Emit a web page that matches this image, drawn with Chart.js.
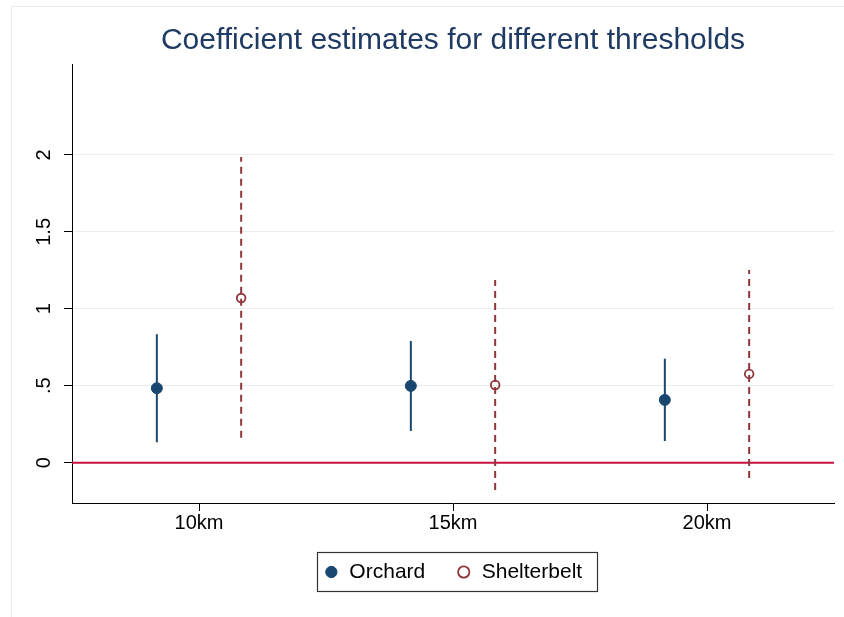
<!DOCTYPE html>
<html>
<head>
<meta charset="utf-8">
<script src="https://cdn.jsdelivr.net/npm/chart.js@4.4.1/dist/chart.umd.min.js"></script>
<style>
  html, body { margin: 0; padding: 0; background: #fff; }
  #wrap { position: relative; width: 844px; height: 617px; }
</style>
</head>
<body>
<div id="wrap"><canvas id="chart"></canvas></div>
<script>
// Data
const thresholds = [10, 15, 20];
const xTickLabels = ['10km', '15km', '20km'];
const orchardEst = [0.484, 0.499, 0.408];
const orchardLo = [0.133, 0.206, 0.141];
const orchardHi = [0.835, 0.791, 0.676];
const shelterEst = [1.07, 0.505, 0.577];
const shelterLo = [0.162, -0.177, -0.099];
const shelterHi = [1.987, 1.187, 1.252];
const yTicks = [0, 0.5, 1, 1.5, 2];
const yTickLabels = ['0', '.5', '1', '1.5', '2'];

const NAVY = '#1a476f';
const MAROON = '#90353b';
const OFFSET = 0.83;
const FONT = '"Liberation Sans", Arial, Helvetica, sans-serif';

const orchardX = thresholds.map(t => t - OFFSET);
const shelterX = thresholds.map(t => t + OFFSET);

// one small dataset per confidence interval
const ciSets = [];
thresholds.forEach((t, i) => {
  ciSets.push({
    label: 'ci-orchard',
    data: [{ x: orchardX[i], y: orchardLo[i] }, { x: orchardX[i], y: orchardHi[i] }],
    showLine: true, borderColor: NAVY, borderWidth: 2, pointRadius: 0, order: 1
  });
  ciSets.push({
    label: 'ci-shelter',
    data: [{ x: shelterX[i], y: shelterLo[i] }, { x: shelterX[i], y: shelterHi[i] }],
    showLine: true, borderColor: MAROON, borderWidth: 2, borderDash: [7, 5], pointRadius: 0, order: 1
  });
});

const X_MIN = 7.5, X_MAX = 22.5;

// faint outer frame + legend box
const framePlugin = {
  id: 'frames',
  beforeDraw(chart) {
    const ctx = chart.ctx;
    ctx.save();
    ctx.strokeStyle = '#e6eef0';
    ctx.lineWidth = 1;
    ctx.strokeRect(11.5, 6.5, 900, 700);
    ctx.restore();
  },
  afterDraw(chart) {
    const hb = chart.legend && chart.legend.legendHitBoxes;
    if (!hb || !hb.length) return;
    const first = hb[0], last = hb[hb.length - 1];
    const yc = first.top + first.height / 2;
    const ctx = chart.ctx;
    ctx.save();
    ctx.strokeStyle = '#333';
    ctx.lineWidth = 1.2;
    const left = Math.round(first.left - 6.5) + 0.5;
    const right = Math.round(last.left + last.width + 15) + 0.5;
    ctx.strokeRect(left, Math.round(yc - 20) + 0.5, right - left, 39);
    ctx.restore();
  }
};

new Chart(document.getElementById('chart'), {
  type: 'scatter',
  data: {
    datasets: [
      {
        label: 'Orchard',
        data: orchardX.map((x, i) => ({ x, y: orchardEst[i] })),
        pointRadius: 5.5, pointBackgroundColor: NAVY, pointBorderColor: NAVY,
        pointBorderWidth: 1, backgroundColor: NAVY, borderColor: NAVY, order: 0
      },
      {
        label: 'Shelterbelt',
        data: shelterX.map((x, i) => ({ x, y: shelterEst[i] })),
        pointRadius: 4.3, pointBackgroundColor: 'rgba(0,0,0,0)', pointBorderColor: MAROON,
        pointBorderWidth: 1.8, backgroundColor: 'rgba(0,0,0,0)', borderColor: MAROON, order: 0
      },
      ...ciSets,
      {
        label: 'zero',
        data: [{ x: X_MIN, y: 0 }, { x: X_MAX, y: 0 }],
        showLine: true, borderColor: '#c8103e', borderWidth: 2, pointRadius: 0, order: 2
      }
    ]
  },
  options: {
    responsive: true,
    maintainAspectRatio: false,
    animation: false,
    layout: { padding: { left: 0, right: 10, top: 0, bottom: 24.5 } },
    font: { family: FONT },
    plugins: {
      title: {
        display: true,
        text: 'Coefficient estimates for different thresholds',
        color: '#1f3a63',
        fullSize: false,
        font: { family: FONT, size: 30, weight: 'normal' },
        padding: { top: 23, bottom: 5 }
      },
      legend: {
        position: 'bottom',
        fullSize: false,
        labels: {
          usePointStyle: true,
          boxWidth: 15,
          boxHeight: 8,
          padding: 31,
          color: '#000',
          font: { family: FONT, size: 21 },
          filter: item => item.text === 'Orchard' || item.text === 'Shelterbelt'
        }
      },
      tooltip: { enabled: false }
    },
    scales: {
      x: {
        type: 'linear',
        min: X_MIN,
        max: X_MAX,
        afterBuildTicks: scale => { scale.ticks = thresholds.map(v => ({ value: v })); },
        afterFit: scale => { scale.height = 27.5; },
        grid: { drawOnChartArea: false, tickLength: 8, tickColor: '#000', tickWidth: 1 },
        border: { color: '#000', width: 1 },
        ticks: {
          color: '#000', padding: 0, maxRotation: 0,
          font: { family: FONT, size: 20 },
          callback: v => xTickLabels[thresholds.indexOf(v)]
        }
      },
      y: {
        min: -0.262,
        max: 2.591,
        afterBuildTicks: scale => { scale.ticks = yTicks.map(v => ({ value: v })); },
        afterFit: scale => { scale.width = 72; },
        grid: { color: '#e7eef1', lineWidth: 1, tickLength: 8, tickColor: '#000', tickWidth: 1 },
        border: { color: '#000', width: 1 },
        ticks: {
          color: '#000', padding: 6, minRotation: 90, maxRotation: 90, crossAlign: 'center',
          font: { family: FONT, size: 20 },
          callback: v => yTickLabels[yTicks.indexOf(v)]
        }
      }
    }
  },
  plugins: [framePlugin]
});
</script>
</body>
</html>
